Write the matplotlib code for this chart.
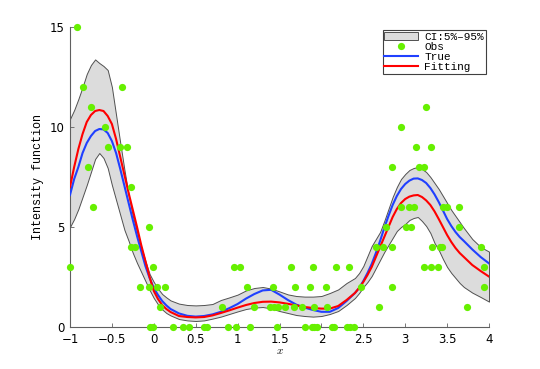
import matplotlib
matplotlib.use("Agg")
import matplotlib.pyplot as plt

x_grid = [-1.0, -0.95, -0.9, -0.85, -0.8, -0.75, -0.7, -0.65, -0.6, -0.55,
          -0.5, -0.45, -0.4, -0.35, -0.3, -0.25, -0.2, -0.15, -0.1, -0.05,
          0.0, 0.05, 0.1, 0.15, 0.2,
          0.3, 0.4, 0.5, 0.6, 0.7, 0.8, 0.9, 1.0, 1.1, 1.2, 1.3, 1.4, 1.5,
          1.6, 1.7, 1.8, 1.9, 2.0, 2.1, 2.2, 2.3, 2.4,
          2.45, 2.5, 2.55, 2.6, 2.65, 2.7, 2.75, 2.8, 2.85, 2.9, 2.95, 3.0,
          3.05, 3.1, 3.15, 3.2, 3.25, 3.3, 3.35, 3.4, 3.45, 3.5, 3.55, 3.6,
          3.65, 3.7,
          3.8, 3.9, 4.0]

true_y = [6.6, 7.4, 8.0, 8.7, 9.2, 9.55, 9.8, 9.9, 9.88, 9.7,
          9.3, 8.7, 7.9, 7.05, 6.2, 5.35, 4.55, 3.8, 3.05, 2.45,
          1.95, 1.6, 1.3, 1.08, 0.9,
          0.68, 0.56, 0.52, 0.55, 0.63, 0.76, 0.94, 1.15, 1.42, 1.65, 1.83, 1.86, 1.62,
          1.35, 1.12, 0.97, 0.85, 0.76, 0.76, 0.95, 1.3, 1.7,
          1.95, 2.3, 2.7, 3.15, 3.7, 4.3, 4.95, 5.55, 6.1, 6.55, 6.9, 7.15,
          7.32, 7.42, 7.43, 7.35, 7.2, 6.95, 6.63, 6.25, 5.83, 5.4, 5.05, 4.75,
          4.5, 4.3,
          3.88, 3.5, 3.18]

fit_y = [7.0, 8.0, 8.9, 9.65, 10.25, 10.6, 10.8, 10.85, 10.8, 10.55,
         10.15, 9.4, 8.5, 7.6, 6.7, 5.85, 5.0, 4.1, 3.3, 2.5,
         1.8, 1.4, 1.1, 0.9, 0.75,
         0.55, 0.5, 0.48, 0.5, 0.58, 0.7, 0.83, 0.97, 1.1, 1.2, 1.26, 1.27, 1.23,
         1.16, 1.08, 1.0, 0.95, 0.92, 0.92, 1.05, 1.35, 1.7,
         1.95, 2.25, 2.6, 3.0, 3.5, 4.0, 4.5, 5.0, 5.5, 5.9, 6.2, 6.4,
         6.52, 6.58, 6.6, 6.5, 6.33, 6.1, 5.78, 5.4, 5.0, 4.6, 4.25, 3.95,
         3.7, 3.5,
         3.1, 2.8, 2.52]

ci_hi = [10.4, 10.85, 11.4, 12.0, 12.65, 13.1, 13.38, 13.2, 13.05, 12.85,
         12.0, 10.6, 9.2, 7.85, 6.6, 5.55, 4.75, 4.0, 3.3, 2.65,
         2.25, 1.92, 1.65, 1.48, 1.33,
         1.17, 1.1, 1.08, 1.1, 1.15, 1.35, 1.48, 1.62, 1.83, 1.95, 2.0, 1.92, 1.78,
         1.63, 1.55, 1.52, 1.52, 1.55, 1.7, 1.88, 2.2, 2.45,
         2.7, 3.05, 3.55, 4.05, 4.4, 4.75, 5.3, 5.9, 6.5, 7.0, 7.4, 7.65,
         7.85, 7.95, 8.0, 7.9, 7.75, 7.5, 7.2, 6.9, 6.55, 6.2, 5.85, 5.55,
         5.25, 4.95,
         4.4, 4.0, 3.77]

ci_lo = [5.0, 5.4, 5.9, 6.5, 7.1, 7.75, 8.4, 8.7, 8.45, 7.95,
         7.1, 6.35, 5.6, 4.85, 4.3, 3.7, 3.2, 2.75, 2.3, 1.85,
         1.45, 1.13, 0.88, 0.7, 0.58,
         0.4, 0.33, 0.3, 0.33, 0.42, 0.52, 0.65, 0.78, 0.9, 0.97, 1.0, 0.93, 0.8,
         0.7, 0.6, 0.55, 0.52, 0.55, 0.65, 0.8, 1.1, 1.45,
         1.7, 2.0, 2.25, 2.55, 2.95, 3.35, 3.75, 4.1, 4.45, 4.8, 5.0, 5.15,
         5.35, 5.45, 5.5, 5.3, 5.05, 4.7, 4.2, 3.85, 3.4, 3.0, 2.7, 2.45,
         2.2, 2.0,
         1.72, 1.5, 1.27]

# observed counts: x positions grouped by count
obs = {
    15: [-0.92],
    12: [-0.84, -0.38],
    11: [-0.75, 3.25],
    10: [-0.58, 2.95],
    9: [-0.55, -0.40, -0.32, 3.125, 3.31],
    8: [-0.79, 2.84, 3.165, 3.225],
    7: [-0.27],
    6: [-0.73, 2.95, 3.04, 3.10, 3.455, 3.50, 3.64],
    5: [-0.06, 2.77, 3.01, 3.07, 3.64],
    4: [-0.27, -0.23, 2.65, 2.74, 2.84, 3.32, 3.415, 3.44, 3.91],
    3: [-1.0, -0.01, 0.955, 1.03, 1.635, 1.904, 2.174, 2.329, 3.224, 3.308, 3.395, 3.94],
    2: [-0.165, -0.054, 0.042, 0.138, 1.118, 1.418, 1.69, 1.868, 2.058, 2.469, 2.843, 3.94],
    1: [0.076, 0.815, 1.19, 1.39, 1.43, 1.48, 1.57, 1.668, 1.765, 1.906, 2.071, 2.691, 3.741],
    0: [-0.05, -0.01, 0.233, 0.35, 0.42, 0.595, 0.64, 0.885, 0.985, 1.148, 1.474,
        1.8, 1.891, 1.915, 1.944, 2.123, 2.150, 2.302, 2.341, 2.393],
}
obs_x = [v for k in obs for v in obs[k]]
obs_y = [k for k in obs for v in obs[k]]

plt.rcParams["mathtext.fontset"] = "cm"
fig = plt.figure(figsize=(5.4, 3.69), dpi=100)
ax = fig.add_axes([0.1296, 0.1138, 0.776, 0.813])

ci = ax.fill_between(x_grid, ci_lo, ci_hi, facecolor="#dcdcdc",
                     edgecolor="#505050", linewidth=0.7, label="CI:5%\u201395%")
pts, = ax.plot(obs_x, obs_y, "o", color="#66f000", markersize=5.2,
               markeredgewidth=0, clip_on=False, label="Obs", zorder=5)
l_true, = ax.plot(x_grid, true_y, color="#2040ff", lw=1.5, label="True", zorder=4)
l_fit, = ax.plot(x_grid, fit_y, color="#ff0000", lw=1.5, label="Fitting", zorder=4)

ax.set_xlim(-1, 4)
ax.set_ylim(0, 15)
ax.set_xticks([-1, -0.5, 0, 0.5, 1, 1.5, 2, 2.5, 3, 3.5, 4])
ax.set_xticklabels(["\u22121", "\u22120.5", "0", "0.5", "1", "1.5", "2", "2.5", "3", "3.5", "4"])
ax.set_yticks([0, 5, 10, 15])
ax.tick_params(direction="in", length=3, width=0.6, color="#606060",
               labelsize=8.5)
ax.tick_params(axis="x", pad=4)
ax.tick_params(axis="y", pad=4)
for s in ["top", "right"]:
    ax.spines[s].set_visible(False)
for s in ["left", "bottom"]:
    ax.spines[s].set_color("#606060")
    ax.spines[s].set_linewidth(0.8)

ax.set_ylabel("Intensity function", family="Liberation Mono", fontsize=8.5, labelpad=4)
ax.set_xlabel("$x$", fontsize=8, labelpad=0)

leg = ax.legend(handles=[ci, pts, l_true, l_fit], loc="upper right",
                bbox_to_anchor=(1.0, 1.0), prop={"family": "Liberation Mono", "size": 8},
                fancybox=False, framealpha=1, edgecolor="#404040",
                handlelength=3.0, labelspacing=0.0, borderpad=0.15,
                handletextpad=0.6, borderaxespad=0.3)
leg.get_frame().set_linewidth(0.8)

fig.savefig("out.png", dpi=100)
